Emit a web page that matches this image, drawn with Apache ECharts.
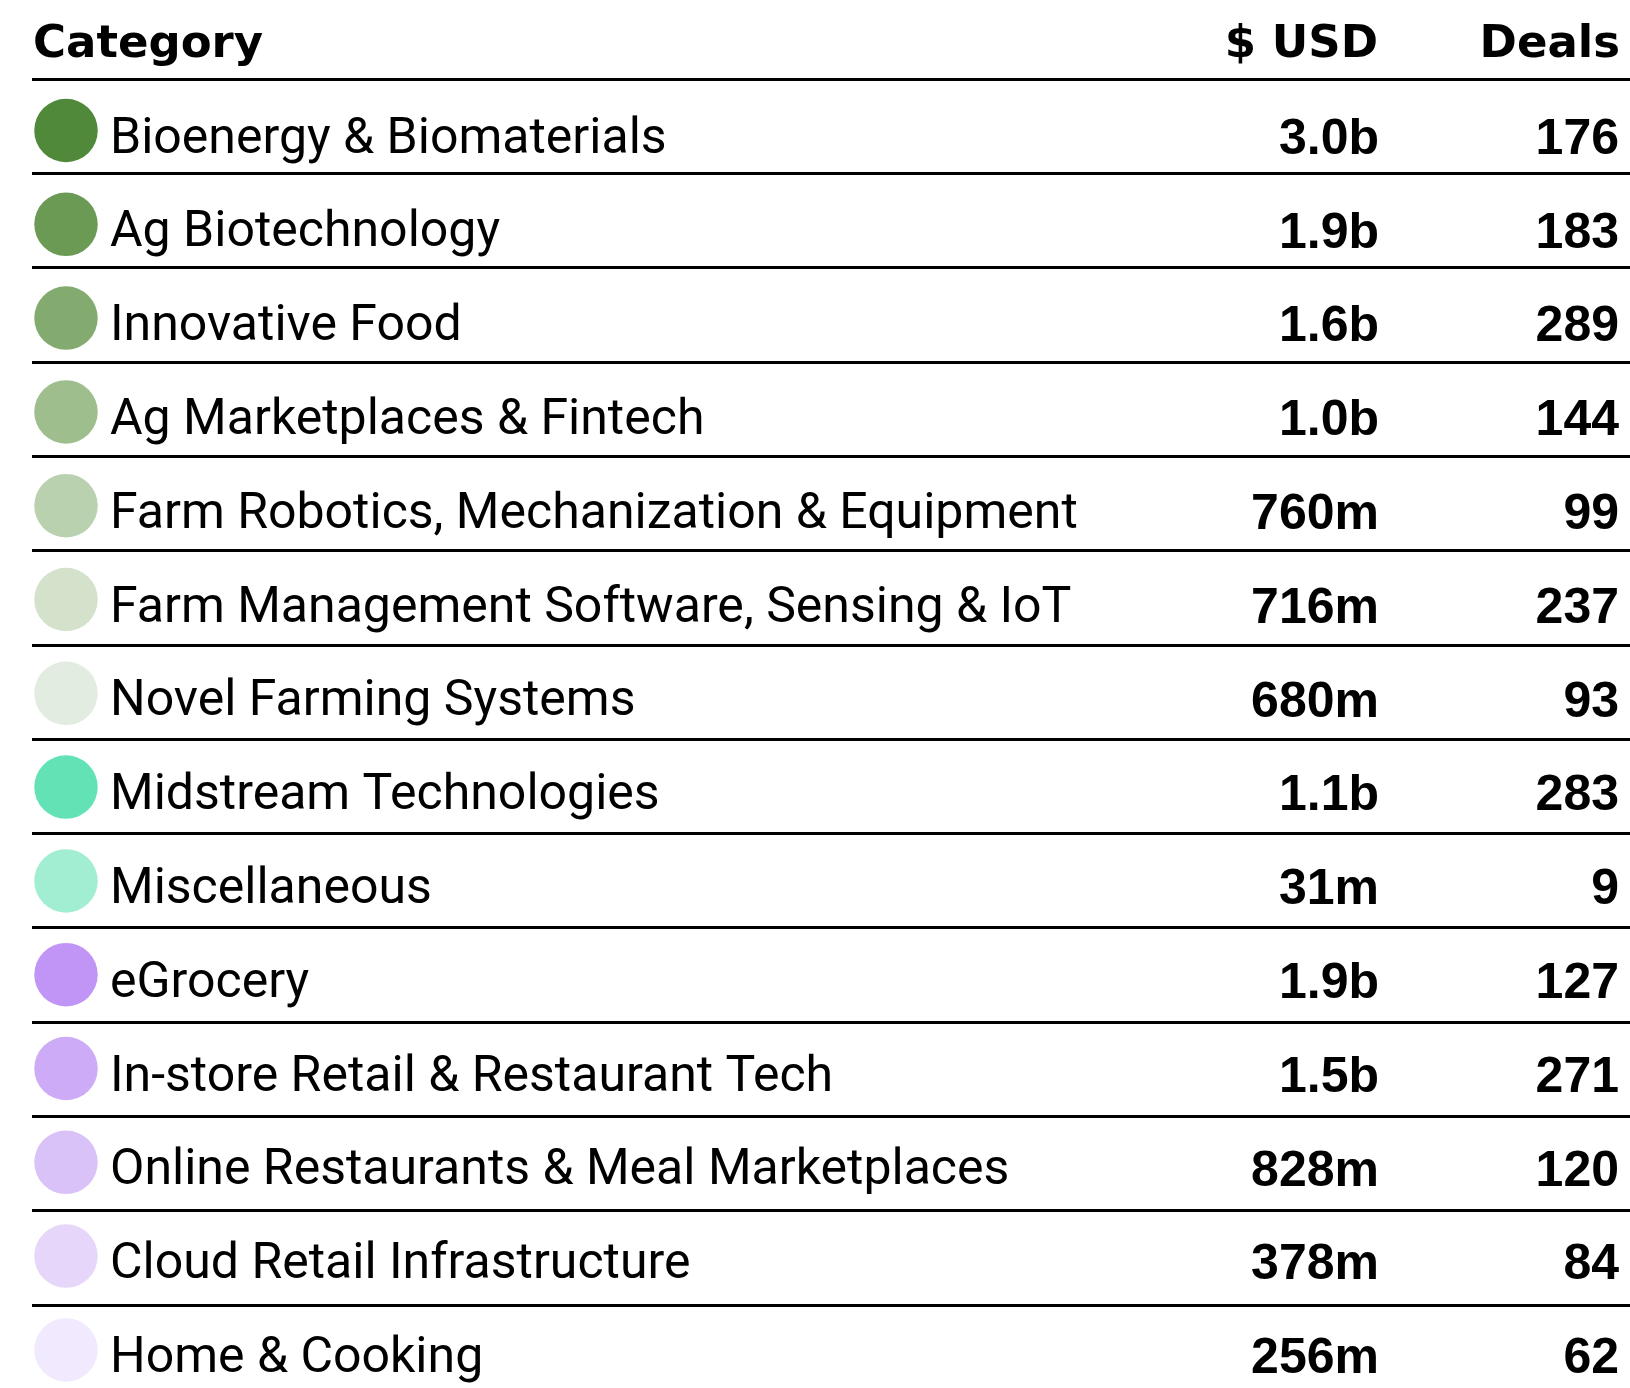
<!DOCTYPE html>
<html>
<head>
<meta charset="utf-8">
<script src="https://cdn.jsdelivr.net/npm/echarts@6/dist/echarts.min.js"></script>
<style>
html,body{margin:0;padding:0;background:#fff;}
#chart{width:1630px;height:1388px;}
</style>
</head>
<body>
<div id="chart"></div>
<script>
// ---- data ----
const headers = ['Category', '$ USD', 'Deals'];
const categories = [
  'Bioenergy & Biomaterials',
  'Ag Biotechnology',
  'Innovative Food',
  'Ag Marketplaces & Fintech',
  'Farm Robotics, Mechanization & Equipment',
  'Farm Management Software, Sensing & IoT',
  'Novel Farming Systems',
  'Midstream Technologies',
  'Miscellaneous',
  'eGrocery',
  'In-store Retail & Restaurant Tech',
  'Online Restaurants & Meal Marketplaces',
  'Cloud Retail Infrastructure',
  'Home & Cooking'
];
const usdLabels = ['3.0b', '1.9b', '1.6b', '1.0b', '760m', '716m', '680m', '1.1b', '31m', '1.9b', '1.5b', '828m', '378m', '256m'];
const deals = [176, 183, 289, 144, 99, 237, 93, 283, 9, 127, 271, 120, 84, 62];
const dotColors = ['#51893a', '#6a9a54', '#84ab6f', '#9fbe8e', '#bad1af', '#d4e2cc', '#e3ece0',
                   '#63e3b5', '#a2eed3', '#c195f6', '#cdabf6', '#d9c2f8', '#e5d6fa', '#f1e9fd'];

// ---- layout ----
const LABEL_FONT = 'Roboto';
const BOLD_FONT = '"Liberation Sans", Arial, sans-serif';
const HEAD_FONT = '"DejaVu Sans", sans-serif';
const INK = '#000';
const ROW_H = 93.8;

const chart = echarts.init(document.getElementById('chart'), null, {renderer: 'canvas'});

const headStyle = {fontFamily: HEAD_FONT, fontWeight: 'bold', fontSize: 45, color: INK};
const hiddenAxisParts = {axisLine: {show: false}, axisTick: {show: false}, splitLine: {show: false}};
const option = {
  backgroundColor: '#fff',
  animation: false,
  title: [
    {text: headers[0], left: 33, top: 23, padding: 0, textStyle: headStyle},
    {text: headers[1], right: 252, top: 23, padding: 0, textStyle: headStyle},
    {text: headers[2], right: 10, top: 23, padding: 0, textStyle: headStyle}
  ],
  grid: [
    // row separators
    {left: 32, right: 0, top: 79, height: 94.3 * categories.length, outerBoundsMode: 'none'},
    // dots
    {left: 66, right: 11, top: 83.6, height: ROW_H * categories.length, outerBoundsMode: 'none'},
    // text columns
    {left: 66, right: 11, top: 93.1, height: ROW_H * categories.length, outerBoundsMode: 'none'}
  ],
  xAxis: [
    {gridIndex: 0, type: 'value', min: 0, max: 1, show: false},
    {gridIndex: 1, type: 'value', min: 0, max: 1, show: false},
    {gridIndex: 2, type: 'value', min: 0, max: 1, show: false}
  ],
  yAxis: [
    {gridIndex: 0, type: 'category', inverse: true, data: categories,
     axisLine: {show: false}, axisTick: {show: false}, axisLabel: {show: false},
     splitLine: {show: true, showMinLine: true, showMaxLine: true,
                 lineStyle: {color: '#000', width: 3}}},
    Object.assign({gridIndex: 1, type: 'category', inverse: true, data: categories,
     axisLabel: {show: false}}, hiddenAxisParts),
    Object.assign({gridIndex: 2, type: 'category', inverse: true, position: 'left', data: categories,
     axisLabel: {inside: true, margin: 44, fontFamily: LABEL_FONT, fontSize: 50, color: INK}}, hiddenAxisParts),
    Object.assign({gridIndex: 2, type: 'category', inverse: true, position: 'right', offset: -240, data: usdLabels,
     axisLabel: {inside: true, margin: 0, fontFamily: BOLD_FONT, fontWeight: 'bold', fontSize: 50, color: INK}}, hiddenAxisParts),
    Object.assign({gridIndex: 2, type: 'category', inverse: true, position: 'right', offset: 0, data: deals.map(String),
     axisLabel: {inside: true, margin: 0, fontFamily: BOLD_FONT, fontWeight: 'bold', fontSize: 50, color: INK}}, hiddenAxisParts)
  ],
  series: [
    {
      type: 'scatter', xAxisIndex: 1, yAxisIndex: 1,
      symbol: 'circle', symbolSize: 63.5,
      itemStyle: {opacity: 1},
      data: categories.map((c, i) => ({value: [0, i], itemStyle: {color: dotColors[i], opacity: 1}})),
      silent: true
    }
  ]
};
chart.setOption(option);
</script>
</body>
</html>
